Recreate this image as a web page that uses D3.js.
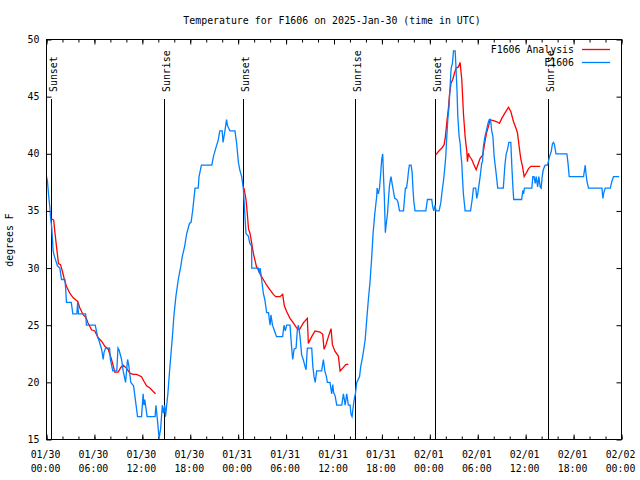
<!DOCTYPE html>
<html><head><meta charset="utf-8">
<script src="https://cdn.jsdelivr.net/npm/d3@7"></script>
<style>
body{margin:0;background:#fff}
svg{display:block}
text{font-family:"DejaVu Sans Mono","Liberation Mono",monospace;font-size:9.9px;fill:#000}
</style>
</head><body><svg id="c" width="640" height="480"></svg>
<script>
// ---------- data ----------
const title = "Temperature for F1606 on 2025-Jan-30 (time in UTC)";
const yLabel = "degrees F";
const seriesNames = ["F1606 Analysis", "F1606"];
const startUTC = "2025-01-30T00:00:00Z";
const endUTC = "2025-02-02T00:00:00Z";
const yTicks = [15, 20, 25, 30, 35, 40, 45, 50];
const sunLabels = ["Sunset", "Sunrise", "Sunset", "Sunrise", "Sunset", "Sunrise"];
const sunHours = [0.56, 14.74, 24.64, 38.67, 48.7, 62.74];

// observations (hours since start, deg F)
const obsHours = [0,0.12,0.25,0.41,0.5,0.66,0.75,0.83,1.0,1.37,1.67,1.88,2.3,2.4,2.5,3.1,3.3,3.8,3.9,4.0,4.9,5.0,6.1,6.4,6.6,6.9,7.1,7.2,7.4,7.9,8.0,8.3,8.8,8.95,9.1,9.4,9.6,9.9,10.15,10.3,10.55,10.9,11.07,11.4,11.9,12.1,12.2,12.3,12.6,13.6,13.7,13.85,14.1,14.3,14.5,14.65,14.8,14.9,15.2,15.4,15.6,15.8,15.95,16.2,16.5,16.8,17.0,17.3,17.55,17.9,18.1,18.3,18.6,19.0,19.1,19.4,20.7,20.9,21.2,21.5,21.7,22.0,22.1,22.3,22.55,22.65,22.97,23.6,23.81,24.02,24.2,24.44,24.64,24.73,24.85,24.98,25.27,25.45,25.69,25.7,26.52,26.65,26.75,26.94,27.15,27.35,27.57,27.8,27.9,28.0,28.1,28.3,28.5,28.8,29.57,29.74,29.9,30.07,30.49,30.7,30.83,31.0,31.25,31.41,31.54,31.75,31.95,32.15,32.37,32.5,32.66,33.21,33.35,33.5,33.65,33.83,34.46,34.67,34.85,35.05,35.17,35.5,35.71,35.85,35.95,36.15,36.34,36.97,37.18,37.4,37.59,37.8,38.01,38.13,38.26,38.43,38.55,38.68,38.85,39.2,39.35,39.6,39.9,40.1,40.3,40.5,40.7,40.9,41.1,41.35,41.4,41.55,41.7,41.85,41.97,42.1,42.2,42.3,42.43,42.5,42.7,42.93,43.05,43.14,43.3,43.45,43.6,43.85,44.0,44.2,44.7,44.8,44.94,45.08,45.2,45.35,45.44,45.65,45.78,45.9,46.0,46.15,47.5,47.7,48.24,48.35,48.5,48.65,48.78,48.95,49.16,49.37,49.5,49.7,49.85,50.0,50.1,50.25,50.4,50.54,50.67,50.83,50.96,51.17,51.25,51.4,51.5,51.67,51.8,51.88,52.0,52.08,52.2,52.42,53.1,53.3,53.46,53.75,53.88,54.0,54.1,54.3,54.5,54.6,54.7,54.9,55.1,55.3,55.45,55.6,55.75,55.9,56.05,56.3,56.5,57.2,57.4,57.56,57.7,57.9,58.14,58.27,58.4,58.5,59.5,59.65,59.73,59.85,60.77,60.9,61.05,61.2,61.32,61.5,61.65,61.82,61.94,62.07,62.2,62.44,62.74,63.0,63.2,63.36,63.5,63.6,63.8,65.16,65.3,65.45,67.25,67.37,67.46,67.55,67.67,67.87,69.55,69.67,69.75,69.96,70.6,70.8,71.0,71.7];
const obsTemps = [38,37.6,36.5,35.4,34.5,33.5,32.5,31.5,31,30.2,30,29,29,28.2,27,27,26,26,27,26,26,25,25,24,23.6,22.9,22,22.6,23,23,22,21,21,23,22.8,22,21,20,22,21.5,20,19.7,18.8,17,17,19,18,18.5,17,17,18,17,15.1,16,18,17.3,18,17,19,20.9,22.6,24.3,25.8,27.5,29,30.1,31,31.9,33,33.9,34,35,37,37,38,39,39,39.75,40.5,41.2,42,42,41,41.8,43,42.5,42,42,40.9,39.3,38.6,38,37,36,34.5,33,32.8,32.2,31.9,30,30,29.6,30,29,27.8,27.2,26.1,26.1,25.5,25,25.9,25,24.6,24,24,25,24.5,25,25,23,22,22.9,23,24.6,25,24,22.4,22,21.4,21.1,23,23,21.4,20.5,20,21,21,22,21,20.5,20,20,19,19.8,19.1,18.8,18,18,19,18,19,18,18,17.2,17,18,18.6,19,20,20.5,21.4,22.3,23.7,25.5,27.2,28.7,30.7,33.1,34.7,36.3,37,36.5,37,38.3,39.5,40,38,36.3,33.1,33.6,34.8,37.1,37.7,38,37.3,36.7,36.1,36,35.8,35,35,35.8,37,37,37.6,38.6,39,39,38.4,36.8,35.8,35,35,36,36,35.4,35,35.5,35,35,35,35.7,36.5,37.6,38.6,39.8,41.2,43,44.1,45.9,47.5,47.9,49,49,47.9,45.6,43.3,41.5,40.9,40.05,39.2,38,36.5,35,35,36,37,37,36.1,36.5,37,38,39.2,39.3,40.6,41.5,42.1,42.7,43,43,42,41.5,39.8,38.3,37,37,39,40,40.3,41,41,38.9,37.1,36,36,36.8,36.5,37,37,38,38,37.4,38,37.1,38,37.1,37,38,38.6,39,39,39.8,40.2,40.9,41,40.8,40,40,39.2,38,38,38.6,39,38.3,37.6,37,37,36.1,36.5,37,37,37.6,38,38];

// analysis (hours since start, deg F); null = gap
const anaHours = [0.67,0.9,1.04,1.25,1.5,1.75,2.0,2.17,2.5,2.92,3.34,3.67,3.9,4.18,4.6,4.93,5.2,5.64,6.05,6.47,6.89,7.31,7.73,8.14,8.56,8.98,9.3,9.6,10.0,10.44,10.86,11.28,11.9,12.2,12.53,12.95,13.36,13.66,null,
  24.73,24.98,25.15,25.3,25.48,25.69,25.9,26.1,26.3,26.5,26.8,27.15,27.57,27.99,28.4,28.7,29.24,29.57,29.78,30.07,30.49,30.91,31.33,31.66,32.16,32.66,32.79,33.21,33.62,34.25,34.59,34.75,35.0,35.3,35.63,35.8,36.13,36.55,36.76,37.09,37.47,37.8,null,
  48.74,49.08,49.5,49.79,49.95,50.12,50.33,50.46,50.66,50.87,51.08,51.29,51.58,51.79,52.0,52.21,52.42,52.63,52.71,52.84,52.95,53.25,53.55,53.8,54.09,54.3,54.63,54.93,55.13,55.34,55.55,55.97,56.39,56.72,57.01,57.43,57.85,58.14,58.48,58.81,58.98,59.19,59.4,59.6,59.81,60.06,60.36,60.65,61.19,61.82];
const anaTemps = [34.3,34.2,33.2,31.9,30.4,30.3,29.7,29.2,28.4,27.8,27.4,27.2,27.1,26.5,25.9,25.7,25.2,24.6,24.5,23.9,23.6,23.15,22.9,22,20.9,20.9,21.3,21.5,21.25,20.8,20.7,20.7,20.5,20.1,19.7,19.5,19.2,19.0,null,
  37.0,36.0,34.7,33.4,33.05,32.2,31.3,30.7,30.1,29.85,29.4,29.0,28.5,28.1,27.7,27.5,27.5,27.7,26.7,26.2,25.6,25.2,24.75,24.6,25.2,25.6,23.4,24.0,24.5,24.4,24.2,22.9,23.3,24.0,24.7,23.3,22.7,22.3,21.0,21.25,21.55,21.6,null,
  39.9,40.2,40.5,40.8,41.5,42.7,44.0,45.15,46.2,46.5,47.05,47.5,47.6,48.0,46.5,43.5,41.5,40.2,39.3,40.05,39.8,39.5,39.0,38.6,39.2,39.6,39.9,41.2,41.9,42.4,42.96,42.9,42.8,42.67,43.1,43.6,44.07,43.7,42.8,42.2,41.8,40.6,39.5,38.9,38.0,38.3,38.7,38.9,38.9,38.9];

const colors = ["#ff0000", "#0080ff"];

// ---------- drawing ----------
const svg = d3.select("#c");
const t0 = new Date(startUTC), t1 = new Date(endUTC);
const toDate = h => new Date(t0.getTime() + h * 3600e3);
const L = 46.5, R = 621.5, T = 39.5, B = 439.5;
const x = d3.scaleUtc().domain([t0, t1]).range([L, R]);
const y = d3.scaleLinear().domain([15, 50]).range([B, T]);

svg.append("rect").attr("width", 640).attr("height", 480).attr("fill", "#fff");

// axes ticks
const majorT = d3.utcHour.every(6).range(t0, new Date(t1.getTime() + 1));
const minorT = d3.utcHour.every(2).range(t0, new Date(t1.getTime() + 1));
function tickAxis(axisFn, pos, vals, size) {
  const g = svg.append("g").attr("transform", pos)
    .call(axisFn.tickValues(vals).tickSizeInner(-size).tickSizeOuter(0).tickFormat(""));
  g.select(".domain").remove();
  g.selectAll("line").attr("stroke", "#000");
}
tickAxis(d3.axisBottom(x), `translate(0,${B})`, minorT, 3);
tickAxis(d3.axisBottom(x), `translate(0,${B})`, majorT, 5);
tickAxis(d3.axisTop(x), `translate(0,${T})`, minorT, 3);
tickAxis(d3.axisTop(x), `translate(0,${T})`, majorT, 5);
tickAxis(d3.axisLeft(y), `translate(${L},0)`, yTicks, 5);
tickAxis(d3.axisRight(y), `translate(${R},0)`, yTicks, 5);

// y tick labels
svg.append("g").selectAll("text").data(yTicks).join("text")
  .attr("x", L - 7).attr("y", d => y(d)).attr("dy", "0.35em")
  .attr("text-anchor", "end").text(d => d);

// x tick labels (two lines)
const fmtD = d3.utcFormat("%m/%d"), fmtH = d3.utcFormat("%H:%M");
const xl = svg.append("g").selectAll("text").data(majorT).join("text")
  .attr("text-anchor", "middle");
xl.append("tspan").attr("x", d => x(d) - 1).attr("y", 458).text(fmtD);
xl.append("tspan").attr("x", d => x(d) - 1).attr("y", 471.5).text(fmtH);

// sun event lines + labels
sunHours.forEach((h, i) => {
  const px = Math.round(x(toDate(h))) + 0.5;
  svg.append("line").attr("x1", px).attr("x2", px).attr("y1", 99).attr("y2", B)
    .attr("stroke", "#000").attr("stroke-width", 1);
  svg.append("text").attr("transform", `translate(${px + 5},92) rotate(-90)`)
    .attr("text-anchor", "start").text(sunLabels[i]);
});

// series
const anaData = anaHours.map((h, i) => ({ h, v: anaTemps[i] }));
const obsData = obsHours.map((h, i) => ({ h, v: obsTemps[i] }));
const line = d3.line().defined(d => d.h !== null && d.v !== null)
  .x(d => x(toDate(d.h))).y(d => y(d.v));
svg.append("path").datum(anaData).attr("d", line)
  .attr("fill", "none").attr("stroke", colors[0]).attr("stroke-width", 1.3);
svg.append("path").datum(obsData).attr("d", line)
  .attr("fill", "none").attr("stroke", colors[1]).attr("stroke-width", 1.3);

// frame
svg.append("rect").attr("x", L).attr("y", T).attr("width", R - L).attr("height", B - T)
  .attr("fill", "none").attr("stroke", "#000").attr("stroke-width", 1);

// title & y label
svg.append("text").attr("x", 332).attr("y", 23.5).attr("text-anchor", "middle").text(title);
svg.append("text").attr("transform", "translate(13,240) rotate(-90)")
  .attr("text-anchor", "middle").text(yLabel);

// legend
const legY = [49.5, 62.5];
seriesNames.forEach((n, i) => {
  svg.append("text").attr("x", 574).attr("y", legY[i]).attr("dy", "0.35em")
    .attr("text-anchor", "end").text(n);
  svg.append("line").attr("x1", 582).attr("x2", 610).attr("y1", legY[i]).attr("y2", legY[i])
    .attr("stroke", colors[i]).attr("stroke-width", 1.3);
});
</script>
</body></html>
